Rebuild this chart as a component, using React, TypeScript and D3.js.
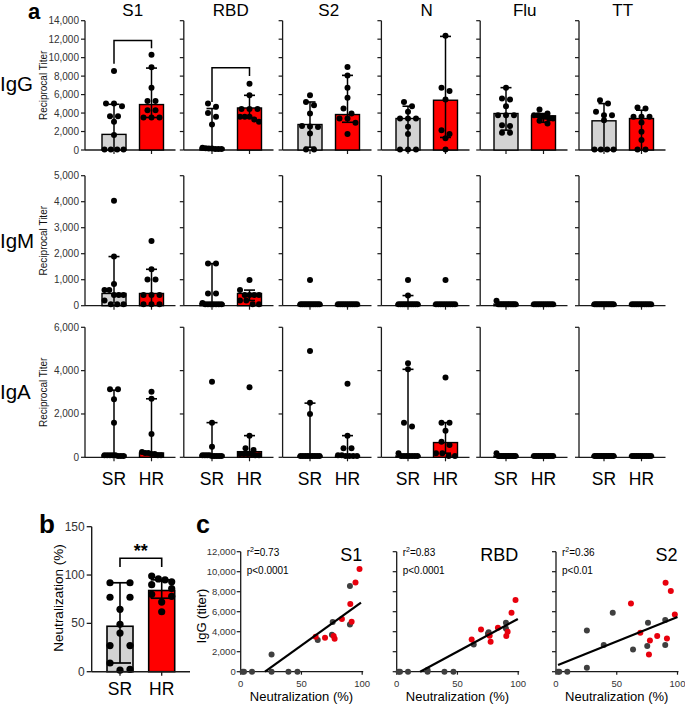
import React from "react";
import * as d3 from "d3";

// ---------- Panel a data ----------
const antigens = ["S1", "RBD", "S2", "N", "Flu", "TT"];
const groups = ["SR", "HR"];
const isotypes = ["IgG", "IgM", "IgA"];
const isoMax = [14000, 5000, 6000];
const isoStep = [2000, 1000, 2000];

// order: S1 SR, S1 HR, RBD SR, RBD HR, S2 SR, S2 HR, N SR, N HR, Flu SR, Flu HR, TT SR, TT HR
const igGPoints = [
  [8550, 5030, 5030, 4740, 3660, 3660, 3050, 1620, 60, 60, 60, 60],
  [10300, 8950, 6750, 5310, 5310, 4310, 4310, 3520, 3520, 3520],
  [5030, 4670, 4000, 3590, 2770, 250, 200, 150, 150, 100, 100, 100],
  [7180, 5920, 4450, 4450, 4450, 3590, 3590, 3590, 3300, 3050],
  [5920, 5200, 4850, 3950, 2600, 2550, 2500, 1800, 60, 60],
  [8980, 8080, 6750, 5670, 4490, 3950, 3410, 3410, 2950, 1720],
  [5200, 4740, 4130, 3410, 3410, 3410, 2510, 1720, 60, 60, 60],
  [12380, 6750, 6390, 5460, 2150, 1720, 1260, 60],
  [6750, 5570, 5460, 4740, 3770, 3770, 3770, 2690, 2600, 1870, 1870],
  [4380, 3950, 3770, 3770, 3590, 3590, 3410, 3410, 3160, 2870],
  [5390, 5030, 4130, 3770, 3770, 3230, 60, 60, 60, 60],
  [4600, 4490, 3590, 3590, 3590, 2980, 1980, 1080, 60, 60],
];
const igGBar = [1690, 4920, 200, 4550, 2760, 3840, 3410, 5390, 3950, 3700, 3160, 3410];
const igGLow = [60, 3520, 100, 3500, 300, 3000, 60, 1360, 2150, 3000, 60, 60];
const igGHigh = [4950, 8870, 4490, 5920, 5200, 8080, 4740, 12300, 6750, 3950, 5030, 4310];

const igMPoints = [
  [4040, 1890, 830, 600, 600, 410, 410, 410, 200, 60, 60, 60],
  [2490, 1400, 1010, 1010, 410, 410, 410, 60, 60, 60],
  [1620, 1620, 470, 470, 100, 60, 60, 60, 60, 60, 60, 60],
  [990, 600, 410, 410, 410, 410, 200, 200, 60, 60],
  [990, 60, 60, 60, 60, 60, 60, 60, 60, 60, 60, 60],
  [60, 60, 60, 60, 60, 60, 60, 60, 60, 60],
  [990, 390, 60, 60, 60, 60, 60, 60, 60, 60, 60, 60],
  [990, 60, 60, 60, 60, 60, 60, 60, 60, 60],
  [190, 60, 60, 60, 60, 60, 60, 60, 60, 60, 60, 60],
  [60, 60, 60, 60, 60, 60, 60, 60, 60, 60],
  [60, 60, 60, 60, 60, 60, 60, 60, 60, 60, 60, 60],
  [60, 60, 60, 60, 60, 60, 60, 60, 60, 60],
];
const igMBar = [470, 470, 80, 470, 60, 60, 60, 60, 60, 60, 60, 60];
const igMLow = [100, 100, 60, 200, 60, 60, 60, 60, 60, 60, 60, 60];
const igMHigh = [1890, 1400, 1620, 600, 60, 60, 390, 60, 60, 60, 60, 60];

const igAPoints = [
  [3140, 3140, 2680, 1600, 100, 100, 100, 100, 100, 60, 60, 60],
  [3030, 2700, 1080, 250, 200, 200, 150, 150, 100, 100],
  [3490, 1600, 490, 100, 100, 100, 100, 60, 60, 60, 60, 60],
  [3230, 1000, 420, 340, 150, 150, 150, 150, 100, 100],
  [4910, 2520, 2000, 60, 60, 60, 60, 60, 60, 60, 60, 60],
  [3400, 1000, 420, 420, 100, 100, 60, 60, 60, 60],
  [4340, 4060, 1600, 1420, 190, 60, 60, 60, 60, 60, 60, 60],
  [3680, 1600, 1600, 1230, 720, 570, 190, 190, 60, 60],
  [190, 60, 60, 60, 60, 60, 60, 60, 60, 60, 60, 60],
  [60, 60, 60, 60, 60, 60, 60, 60, 60, 60],
  [60, 60, 60, 60, 60, 60, 60, 60, 60, 60, 60, 60],
  [60, 60, 60, 60, 60, 60, 60, 60, 60, 60],
];
const igABar = [100, 200, 100, 260, 60, 60, 60, 680, 60, 60, 60, 60];
const igALow = [60, 100, 60, 100, 60, 60, 60, 190, 60, 60, 60, 60];
const igAHigh = [3100, 2700, 1600, 1000, 2500, 1000, 4060, 1600, 60, 60, 60, 60];

// significance brackets on IgG row (column index, titer levels)
const bracketCols = [0, 1];
const bracketTop = [11850, 8900];
const bracketLeftEnd = [9340, 5200];
const bracketRightEnd = [11020, 8000];

// ---------- Panel b data ----------
const neutSR = [92, 92, 77, 77, 64.5, 49, 40, 27, 27, 9, 2.4, 1.6];
const neutHR = [99, 96, 95, 93, 90, 86, 80, 78, 72, 62];
const neutBar = [47, 84];
const neutLow = [9, 76];
const neutHigh = [92, 95];
const neutTicks = [0, 50, 100, 150];

// ---------- Panel c data ----------
const scatterTitles = ["S1", "RBD", "S2"];
const scatterR2 = ["0.73", "0.83", "0.36"];
const scatterP = ["p<0.0001", "p<0.0001", "p<0.01"];
const grayNeut = [1.6, 2.7, 9.3, 25.4, 25.4, 39.3, 46.7, 63.4, 75.1, 75.7, 89.9, 89.9];
const redNeut = [61.7, 69.4, 76.5, 77.3, 83.3, 90.2, 91.3, 94.5, 97.8];
const grayIgG = [
  [0, 0, 0, 1730, 0, 0, 0, 3170, 3700, 4970, 8570, 4730],
  [0, 0, 0, 170, 0, 0, 0, 2730, 3800, 3950, 4900, 4330],
  [0, 0, 0, 4130, 400, 2670, 5900, 2230, 2570, 4900, 5170, 2670],
];
const redIgG = [
  [3500, 3400, 3570, 3300, 5270, 6770, 5000, 8930, 10270],
  [3230, 4230, 3600, 3000, 4400, 3570, 4000, 5900, 7170],
  [6830, 3900, 1730, 3130, 3570, 8900, 3330, 8070, 5730],
];
const fitSlope = [87.5, 65.5, 48.8];
const fitIntercept = [-1750, -1264, 584];
const fitStart = [20, 19.3, 1.7];
const fitEnd = [99, 99.7, 100];
const scatterYTicks = [0, 2000, 4000, 6000, 8000, 10000, 12000];
const scatterXTicks = [0, 50, 100];

// ---------- styling ----------
const FONT = "'Liberation Sans', Arial, Helvetica, sans-serif";
const AX = "#1a1a1a";
const TICKTXT = "#333";
const GRAY_BAR = "#d3d3d3";
const RED_BAR = "#ff0000";
const GRAY_DOT = "#3f3f3f";
const RED_DOT = "#e8000d";

type Placed = { py: number; dx: number };
function swarm(vals: number[], y: (v: number) => number, maxOff: number, gap: number, tol: number): Placed[] {
  const items = vals.map((v) => ({ v, py: y(v) })).sort((a, b) => a.py - b.py);
  const out: Placed[] = [];
  let row: { v: number; py: number }[] = [];
  const flush = () => {
    const k = row.length;
    const sp = k > 1 ? Math.min(gap, (2 * maxOff) / (k - 1)) : 0;
    row.forEach((it, j) => out.push({ py: it.py, dx: (j - (k - 1) / 2) * sp }));
    row = [];
  };
  items.forEach((it) => {
    if (row.length && it.py - row[0].py > tol) flush();
    row.push(it);
  });
  flush();
  return out;
}

const rowBase = [150, 305.7, 457.3];
const rowTopPx = [20.7, 175.7, 327.3];
const rowLabelBase = [91, 248, 399];
const rowPoints = [igGPoints, igMPoints, igAPoints];
const rowBars = [igGBar, igMBar, igABar];
const rowLow = [igGLow, igMLow, igALow];
const rowHigh = [igGHigh, igMHigh, igAHigh];

function PanelA() {
  const els: React.ReactNode[] = [];
  isotypes.forEach((iso, r) => {
    const y = d3.scaleLinear().domain([0, isoMax[r]]).range([rowBase[r], rowTopPx[r]]);
    const ticks = d3.range(0, isoMax[r] + 1, isoStep[r]);
    els.push(
      <text key={`iso${r}`} x={0} y={rowLabelBase[r]} fontSize={20.5} fontFamily={FONT} fill="#000">
        {iso}
      </text>
    );
    const midY = (rowBase[r] + rowTopPx[r]) / 2;
    els.push(
      <text key={`yt${r}`} transform={`translate(43.5,${midY}) rotate(-90)`} textAnchor="middle" dominantBaseline="central" fontSize={10} fontFamily={FONT} fill="#111">
        Reciprocal Titer
      </text>
    );
    antigens.forEach((ag, c) => {
      const axisX = 85 + c * 98.8;
      const xs = groups.map((_, g) => 114 + c * 98 + g * 37.5);
      const xEnd = xs[1] + 24;
      const g0 = `${r}-${c}`;
      els.push(<line key={`ya${g0}`} x1={axisX} x2={axisX} y1={rowBase[r]} y2={rowTopPx[r]} stroke={AX} strokeWidth={1.3} />);
      els.push(<line key={`xa${g0}`} x1={axisX} x2={xEnd} y1={rowBase[r]} y2={rowBase[r]} stroke={AX} strokeWidth={1.3} />);
      ticks.forEach((t) => {
        els.push(<line key={`tk${g0}-${t}`} x1={axisX - 4} x2={axisX} y1={y(t)} y2={y(t)} stroke={AX} strokeWidth={1.2} />);
        if (c === 0)
          els.push(
            <text key={`tl${g0}-${t}`} x={axisX - 6} y={y(t)} textAnchor="end" dominantBaseline="central" fontSize={10} fontFamily={FONT} fill={TICKTXT}>
              {d3.format(",")(t)}
            </text>
          );
      });
      xs.forEach((cx, g) => {
        els.push(<line key={`xt${g0}-${g}`} x1={cx} x2={cx} y1={rowBase[r]} y2={rowBase[r] + 4} stroke={AX} strokeWidth={1.2} />);
      });
      if (r === 0)
        els.push(
          <text key={`ag${c}`} x={(xs[0] + xs[1]) / 2} y={16} textAnchor="middle" fontSize={17} fontFamily={FONT} fill="#000">
            {ag}
          </text>
        );
      if (r === 2)
        xs.forEach((cx, g) =>
          els.push(
            <text key={`gl${c}-${g}`} x={cx} y={485} textAnchor="middle" fontSize={17.5} fontFamily={FONT} fill="#000">
              {groups[g]}
            </text>
          )
        );
      xs.forEach((cx, g) => {
        const idx = c * 2 + g;
        const bar = rowBars[r][idx];
        const lo = rowLow[r][idx];
        const hi = rowHigh[r][idx];
        const k = `${g0}-${g}`;
        els.push(
          <rect key={`bar${k}`} x={cx - 12} width={24} y={y(bar)} height={rowBase[r] - y(bar)} fill={g === 0 ? GRAY_BAR : RED_BAR} stroke="#000" strokeWidth={1.4} />
        );
        if (hi > lo) {
          els.push(<line key={`eb${k}`} x1={cx} x2={cx} y1={y(lo)} y2={y(hi)} stroke="#000" strokeWidth={1.5} />);
          els.push(<line key={`ec${k}`} x1={cx - 5.5} x2={cx + 5.5} y1={y(hi)} y2={y(hi)} stroke="#000" strokeWidth={1.6} />);
          if (lo > 150)
            els.push(<line key={`el${k}`} x1={cx - 5.5} x2={cx + 5.5} y1={y(lo)} y2={y(lo)} stroke="#000" strokeWidth={1.6} />);
        }
        swarm(rowPoints[r][idx], y, 9.5, 8, 5).forEach((p, i) =>
          els.push(<circle key={`pt${k}-${i}`} cx={cx + p.dx} cy={p.py} r={3} fill="#000" />)
        );
      });
    });
  });
  const yG = d3.scaleLinear().domain([0, isoMax[0]]).range([rowBase[0], rowTopPx[0]]);
  bracketCols.forEach((c, i) => {
    const x1 = 114 + c * 98;
    const x2 = x1 + 37.5;
    els.push(
      <path
        key={`br${i}`}
        d={`M${x1},${yG(bracketLeftEnd[i])}V${yG(bracketTop[i])}H${x2}V${yG(bracketRightEnd[i])}`}
        fill="none"
        stroke="#000"
        strokeWidth={1.5}
      />
    );
  });
  els.push(
    <text key="a" x={28} y={19} fontSize={22} fontWeight="bold" fontFamily={FONT}>
      a
    </text>
  );
  return <g>{els}</g>;
}

function PanelB() {
  const y = d3.scaleLinear().domain([0, 150]).range([671.7, 526.7]);
  const axisX = 91.7;
  const xs = [120, 161.7];
  const series = [neutSR, neutHR];
  return (
    <g fontFamily={FONT}>
      <text x={39} y={533} fontSize={26} fontWeight="bold">b</text>
      <text transform={`translate(58.5,598) rotate(-90)`} textAnchor="middle" dominantBaseline="central" fontSize={13.5}>
        Neutralization (%)
      </text>
      {xs.map((cx, g) => (
        <g key={g}>
          <rect x={cx - 13} width={26} y={y(neutBar[g])} height={y(0) - y(neutBar[g])} fill={g === 0 ? GRAY_BAR : RED_BAR} stroke="#000" strokeWidth={1.6} />
          <line x1={cx} x2={cx} y1={y(neutLow[g])} y2={y(neutHigh[g])} stroke="#000" strokeWidth={1.6} />
          <line x1={cx - 11} x2={cx + 11} y1={y(neutHigh[g])} y2={y(neutHigh[g])} stroke="#000" strokeWidth={1.7} />
          <line x1={cx - 11} x2={cx + 11} y1={y(neutLow[g])} y2={y(neutLow[g])} stroke="#000" strokeWidth={1.7} />
          {swarm(series[g], y, 10, 20, 7).map((p, i) => (
            <circle key={i} cx={cx + p.dx} cy={p.py} r={3.6} fill="#000" />
          ))}
          <line x1={cx} x2={cx} y1={y(0)} y2={y(0) + 4} stroke={AX} strokeWidth={1.3} />
          <text x={cx} y={695} textAnchor="middle" fontSize={17.5}>{groups[g]}</text>
        </g>
      ))}
      <line x1={axisX} x2={axisX} y1={y(0)} y2={y(150)} stroke={AX} strokeWidth={1.4} />
      <line x1={axisX} x2={190} y1={y(0)} y2={y(0)} stroke={AX} strokeWidth={1.4} />
      {neutTicks.map((t) => (
        <g key={t}>
          <line x1={axisX - 5} x2={axisX} y1={y(t)} y2={y(t)} stroke={AX} strokeWidth={1.3} />
          <text x={axisX - 7} y={y(t)} textAnchor="end" dominantBaseline="central" fontSize={12} fill={TICKTXT}>
            {t}
          </text>
        </g>
      ))}
      <path d={`M${xs[0]},567V558.3H${xs[1]}V567`} fill="none" stroke="#000" strokeWidth={1.6} />
      <text x={(xs[0] + xs[1]) / 2} y={557} textAnchor="middle" fontSize={18} fontWeight="bold">**</text>
    </g>
  );
}

const scatterX0 = [240.7, 396.7, 556];

function PanelC() {
  const y = d3.scaleLinear().domain([0, 12000]).range([671.7, 551.7]);
  return (
    <g fontFamily={FONT}>
      <text x={196} y={533} fontSize={25} fontWeight="bold">c</text>
      <text transform={`translate(201.5,616) rotate(-90)`} textAnchor="middle" dominantBaseline="central" fontSize={13}>
        IgG (titer)
      </text>
      {scatterTitles.map((title, s) => {
        const x0 = scatterX0[s];
        const x = d3.scaleLinear().domain([0, 100]).range([x0, x0 + 121.5]);
        const fitXs = [fitStart[s], fitEnd[s]];
        return (
          <g key={s}>
            <line x1={x0} x2={x0} y1={y(0)} y2={y(12000)} stroke={AX} strokeWidth={1.3} />
            <line x1={x0} x2={x(100) + 1} y1={y(0)} y2={y(0)} stroke={AX} strokeWidth={1.3} />
            {scatterYTicks.map((t) => (
              <g key={t}>
                <line x1={x0 - 4} x2={x0} y1={y(t)} y2={y(t)} stroke={AX} strokeWidth={1.2} />
                {s === 0 && (
                  <text x={x0 - 5} y={y(t)} textAnchor="end" dominantBaseline="central" fontSize={9.5} fill={TICKTXT}>
                    {d3.format(",")(t)}
                  </text>
                )}
              </g>
            ))}
            {scatterXTicks.map((t) => (
              <g key={t}>
                <line x1={x(t)} x2={x(t)} y1={y(0)} y2={y(0) + 3} stroke={AX} strokeWidth={1.2} />
                <text x={x(t)} y={683} textAnchor="middle" dominantBaseline="central" fontSize={9.5} fill={TICKTXT}>
                  {t}
                </text>
              </g>
            ))}
            <text x={(x(0) + x(100)) / 2} y={701} textAnchor="middle" fontSize={13}>
              Neutralization (%)
            </text>
            <text x={x(100)} y={561} textAnchor="end" fontSize={18}>
              {title}
            </text>
            <text x={x0 + 6} y={556} fontSize={10}>
              r<tspan fontSize={7} dy={-4}>2</tspan>
              <tspan dy={4}>={scatterR2[s]}</tspan>
            </text>
            <text x={x0 + 6} y={574} fontSize={10}>
              {scatterP[s]}
            </text>
            {grayNeut.map((v, i) => (
              <circle key={`g${i}`} cx={x(v)} cy={y(grayIgG[s][i])} r={3} fill={GRAY_DOT} />
            ))}
            {redNeut.map((v, i) => (
              <circle key={`r${i}`} cx={x(v)} cy={y(redIgG[s][i])} r={3} fill={RED_DOT} />
            ))}
            <line
              x1={x(fitXs[0])}
              x2={x(fitXs[1])}
              y1={y(fitIntercept[s] + fitSlope[s] * fitXs[0])}
              y2={y(fitIntercept[s] + fitSlope[s] * fitXs[1])}
              stroke="#000"
              strokeWidth={2.2}
            />
          </g>
        );
      })}
    </g>
  );
}

export default function App() {
  return (
    <svg width={685} height={706} viewBox="0 0 685 706" style={{ position: "absolute", left: 0, top: 0, background: "#fff" }}>
      <rect width={685} height={706} fill="#fff" />
      <PanelA />
      <PanelB />
      <PanelC />
    </svg>
  );
}
